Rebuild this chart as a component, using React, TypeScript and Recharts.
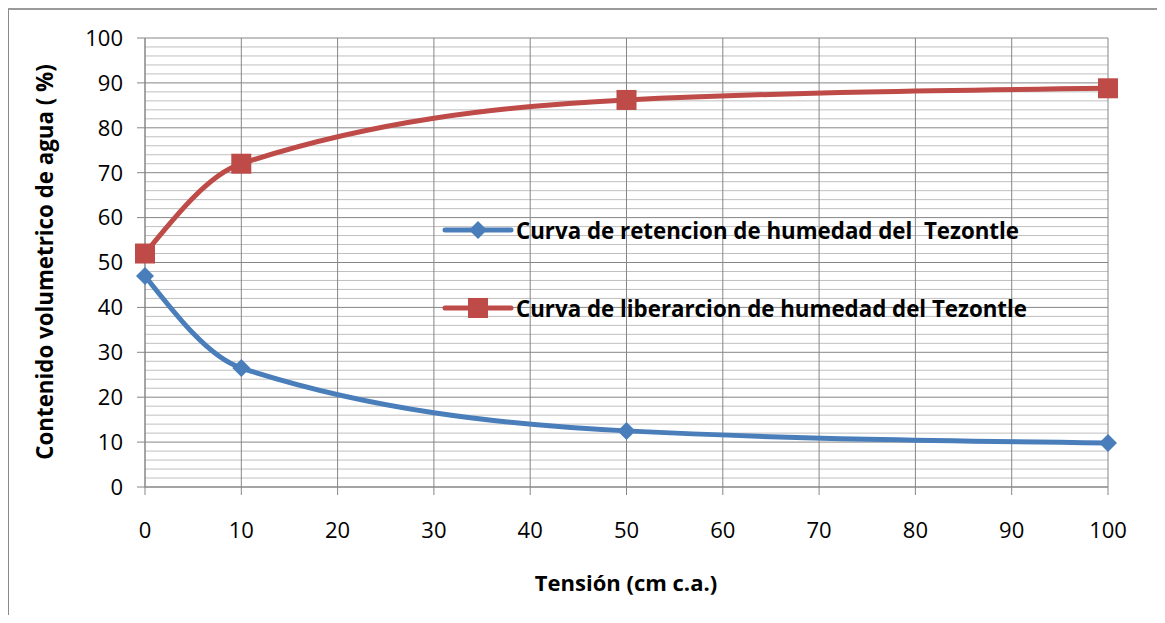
import React from "react";
import { LineChart, Line, XAxis, YAxis, ReferenceLine } from "recharts";

const tension = [0, 10, 50, 100];
const retencion = [47, 26.5, 12.5, 9.8];
const liberacion = [52, 72, 86.2, 88.8];
const xTicks = [0, 10, 20, 30, 40, 50, 60, 70, 80, 90, 100];
const yTicks = [0, 10, 20, 30, 40, 50, 60, 70, 80, 90, 100];
const yMinor = [2, 4, 6, 8, 12, 14, 16, 18, 22, 24, 26, 28, 32, 34, 36, 38, 42, 44, 46, 48, 52, 54, 56, 58, 62, 64, 66, 68, 72, 74, 76, 78, 82, 84, 86, 88, 92, 94, 96, 98];
const seriesNames = [
  "Curva de retencion de humedad del  Tezontle",
  "Curva de liberarcion de humedad del Tezontle",
];
const xTitle = "Tensión (cm c.a.)";
const yTitle = "Contenido volumetrico de agua ( %)";

const data = tension.map((t, i) => ({ t, ret: retencion[i], lib: liberacion[i] }));

const BLUE = "#4A7EBB";
const RED = "#BE4B48";
const FONT = "'Open Sans', sans-serif";

const Diamond = (props: any) => {
  const { cx, cy } = props;
  if (cx == null || cy == null) return null;
  const r = 9;
  return <polygon points={`${cx},${cy - r} ${cx + r},${cy} ${cx},${cy + r} ${cx - r},${cy}`} fill={BLUE} />;
};
const Square = (props: any) => {
  const { cx, cy } = props;
  if (cx == null || cy == null) return null;
  const s = 20;
  return <rect x={cx - s / 2} y={cy - s / 2} width={s} height={s} fill={RED} />;
};

const LegendBox = () => (
  <div
    style={{
      position: "absolute",
      left: 441,
      top: 215,
      fontFamily: FONT,
      fontWeight: 700,
      fontSize: 22.3,
      color: "#000",
    }}
  >
    {seriesNames.map((name, i) => (
      <div key={i} style={{ display: "flex", alignItems: "center", height: 30, marginBottom: i === 0 ? 48 : 0, whiteSpace: "pre" }}>
        <svg width={74} height={24} style={{ marginRight: 1, flex: "none" }}>
          <line x1={4} y1={12} x2={70} y2={12} stroke={i === 0 ? BLUE : RED} strokeWidth={5} strokeLinecap="round" />
          {i === 0 ? (
            <polygon points="37,3 46,12 37,21 28,12" fill={BLUE} />
          ) : (
            <rect x={27} y={2} width={20} height={20} fill={RED} />
          )}
        </svg>
        <span>{name}</span>
      </div>
    ))}
  </div>
);

export default function App() {
  return (
    <div style={{ position: "relative", width: 1165, height: 623, margin: -8, background: "#fff", overflow: "hidden" }}>
      <div
        style={{
          position: "absolute",
          left: 6,
          top: 8,
          width: 1175,
          height: 612,
          borderTop: "2px solid #9a9a9a",
          borderLeft: "3px solid #8a8a8a",
          borderBottom: "3px solid #d6d6d6",
          boxSizing: "border-box",
        }}
      />
      <div style={{ position: "absolute", left: 0, top: 0 }}>
        <LineChart width={1165} height={623} data={data} margin={{ top: 38, right: 57, left: 85, bottom: 96 }}>
          <XAxis
            dataKey="t"
            type="number"
            domain={[0, 100]}
            ticks={xTicks}
            interval={0}
            tickSize={8}
            tickMargin={27}
            height={40}
            stroke="#868686"
            tick={{ fill: "#000", fontSize: 22, fontFamily: FONT }}
            label={{
              content: () => (
                <text x={626} y={591} textAnchor="middle" fontFamily={FONT} fontWeight={700} fontSize={22} fill="#000">
                  {xTitle}
                </text>
              ),
            }}
          />
          <YAxis
            type="number"
            domain={[0, 100]}
            ticks={yTicks}
            interval={0}
            tickSize={8}
            tickMargin={14}
            width={60}
            stroke="#868686"
            tick={{ fill: "#000", fontSize: 22, fontFamily: FONT }}
            label={{
              content: () => (
                <text
                  x={53}
                  y={262}
                  textAnchor="middle"
                  transform="rotate(-90 53 262)"
                  fontFamily={FONT}
                  fontWeight={700}
                  fontSize={22.3}
                  fill="#000"
                >
                  {yTitle}
                </text>
              ),
            }}
          />
          {yMinor.map((v) => (
            <ReferenceLine key={"m" + v} y={v} stroke="#bfbfbf" strokeWidth={1} />
          ))}
          {yTicks.map((v) => (
            <ReferenceLine key={"y" + v} y={v} stroke="#868686" strokeWidth={1} />
          ))}
          {xTicks.map((v) => (
            <ReferenceLine key={"x" + v} x={v} stroke="#868686" strokeWidth={1} />
          ))}
          <Line
            type="monotone"
            dataKey="ret"
            name={seriesNames[0]}
            stroke={BLUE}
            strokeWidth={5}
            dot={<Diamond />}
            activeDot={false}
            isAnimationActive={false}
          />
          <Line
            type="monotone"
            dataKey="lib"
            name={seriesNames[1]}
            stroke={RED}
            strokeWidth={5}
            dot={<Square />}
            activeDot={false}
            isAnimationActive={false}
          />
        </LineChart>
      </div>
      <LegendBox />
    </div>
  );
}
